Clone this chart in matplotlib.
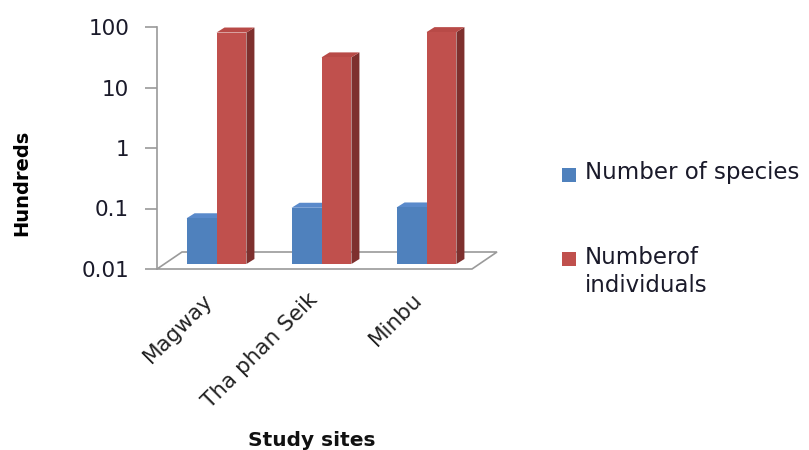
import numpy as np
import matplotlib
matplotlib.use("Agg")
import matplotlib.pyplot as plt
from matplotlib.patches import Polygon, Rectangle
from matplotlib.transforms import IdentityTransform, offset_copy

# data (values in hundreds)
sites = ["Magway", "Tha phan Seik", "Minbu"]
n_species = [0.057, 0.085, 0.086]
n_individuals = [67, 26, 68]
yticks = [0.01, 0.1, 1, 10, 100]
yticklabels = ["0.01", "0.1", "1", "10", "100"]
series_labels = ["Number of species", "Numberof\nindividuals"]

W, H = 809, 450
blue = ("#4F81BD", "#5A8ACB", "#3B6497")   # front, top, side
red = ("#C0504D", "#B84A47", "#7E302E")
text_col = "#1a1a2a"
grid_col = "#9a9a9a"

front_off = (7, 5)     # px: bars stand a little back on the floor
bar_depth = (8, 5)
floor_depth = (25, 17)

fig = plt.figure(figsize=(W / 100, H / 100), dpi=100)
ax = fig.add_axes([157 / W, (H - 269) / H, (472 - 157) / W, (269 - 27) / H])
ax.set_yscale("log")
ax.set_ylim(0.01, 100)
ax.set_xlim(-0.5, 2.5)
ax.patch.set_visible(False)
for s in ["top", "right", "bottom"]:
    ax.spines[s].set_visible(False)
ax.spines["left"].set_color(grid_col)
ax.spines["left"].set_linewidth(1.2)

ax.set_yticks(yticks, yticklabels)
ax.minorticks_off()
ax.tick_params(axis="y", length=9, width=1.2, color=grid_col, pad=11,
               labelsize=15.5, labelcolor=text_col)

x = np.arange(len(sites))
ax.set_xticks(x, sites, rotation=45, ha="right", va="center",
              rotation_mode="anchor")
ax.tick_params(axis="x", length=0, pad=20, labelsize=15.5, labelcolor="#222222")

# floor
p0 = ax.transAxes.transform((0, 0))
p1 = ax.transAxes.transform((1, 0))
floor = np.array([p0, p1, p1 + floor_depth, p0 + floor_depth])
ax.add_patch(Polygon(floor, closed=True, facecolor="white", edgecolor=grid_col,
                     linewidth=1.2, transform=IdentityTransform(), clip_on=False,
                     zorder=1))

w = 0.285
shift = offset_copy(ax.transData, fig=fig, x=front_off[0], y=front_off[1],
                    units="dots")
z = 2
for vals, xs, cols in [(n_species, x - w / 2, blue), (n_individuals, x + w / 2, red)]:
    for xi, v in zip(xs, vals):
        a = ax.transData.transform((xi - w / 2, 0.01)) + front_off
        b = ax.transData.transform((xi + w / 2, v)) + front_off
        d = np.array(bar_depth)
        side = [(b[0], a[1]), (b[0], b[1]), (b[0] + d[0], b[1] + d[1]),
                (b[0] + d[0], a[1] + d[1])]
        top = [(a[0], b[1]), (b[0], b[1]), (b[0] + d[0], b[1] + d[1]),
               (a[0] + d[0], b[1] + d[1])]
        ax.add_patch(Polygon(side, closed=True, facecolor=cols[2], linewidth=0,
                             transform=IdentityTransform(), clip_on=False, zorder=z))
        ax.add_patch(Polygon(top, closed=True, facecolor=cols[1], linewidth=0,
                             transform=IdentityTransform(), clip_on=False, zorder=z))
    ax.bar(xs, np.array(vals) - 0.01, width=w, bottom=0.01, color=cols[0],
           transform=shift, zorder=z + 1, clip_on=False)
    z += 2

fig.text(22 / W, 1 - 183 / H, "Hundreds", rotation=90, ha="center", va="center",
         fontsize=14, fontweight="bold", color="black")
fig.text(312 / W, 1 - 441 / H, "Study sites", ha="center", va="center",
         fontsize=14.5, fontweight="bold", color="#111111")

# legend
for (cy, ty), col, lab in zip([(175, 173), (259, 246)], [blue[0], red[0]], series_labels):
    fig.patches.append(Rectangle((562 / W, 1 - (cy + 7) / H), 14 / W, 14 / H,
                                 facecolor=col, edgecolor="none",
                                 transform=fig.transFigure))
    fig.text(585 / W, 1 - ty / H, lab, ha="left", va="top" if "\n" in lab else "center",
             fontsize=16.5, color=text_col, linespacing=1.25)

fig.savefig("out.png", dpi=100)
